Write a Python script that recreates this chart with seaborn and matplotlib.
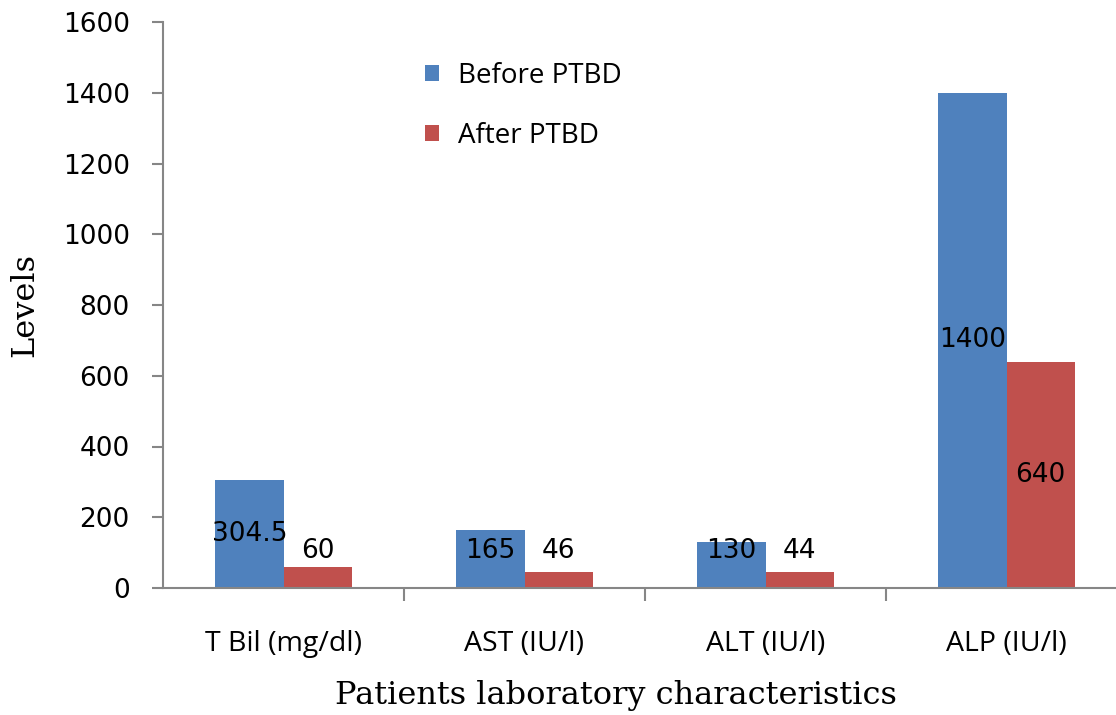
import matplotlib
matplotlib.use("Agg")
import matplotlib.pyplot as plt
import seaborn as sns
import pandas as pd
from matplotlib.patches import Patch

categories = ["T Bil (mg/dl)", "AST (IU/l)", "ALT (IU/l)", "ALP (IU/l)"]
before = [304.5, 165, 130, 1400]
after = [60, 46, 44, 640]
before_labels = ["304.5", "165", "130", "1400"]
after_labels = ["60", "46", "44", "640"]
series = ["Before PTBD", "After PTBD"]
colors = ["#4F81BD", "#C0504D"]
yticks = [0, 200, 400, 600, 800, 1000, 1200, 1400, 1600]

df = pd.DataFrame({
    "cat": categories * 2,
    "val": before + after,
    "series": [series[0]] * 4 + [series[1]] * 4,
})

sns.set_style("white")
fig = plt.figure(figsize=(11.16, 7.15), dpi=100)
ax = fig.add_axes([163 / 1116, (715 - 588) / 715, 1 - 163 / 1116, (588 - 22) / 715])

sns.barplot(data=df, x="cat", y="val", hue="series", palette=colors,
            width=0.568, gap=0, saturation=1, ax=ax, legend=False,
            edgecolor="none", linewidth=0)

ax.set_ylim(0, 1600)
ax.set_yticks(yticks)
ax.set_yticklabels([str(t) for t in yticks], fontsize=19, family="DejaVu Sans")
ax.set_xlim(-0.5, -0.5 + (1116 - 163) / 241)
ax.set_xticks([0, 1, 2, 3])
ax.set_xticklabels(categories, fontsize=20.5, family="Open Sans")
ax.set_xticks([0.5, 1.5, 2.5], minor=True)

grey = "#868686"
for s in ["top", "right"]:
    ax.spines[s].set_visible(False)
for s in ["left", "bottom"]:
    ax.spines[s].set_color(grey)
    ax.spines[s].set_linewidth(1.5)

ax.tick_params(axis="y", which="major", direction="out", length=8, width=1.5,
               color=grey, pad=16, left=True, labelcolor="black")
ax.tick_params(axis="x", which="major", length=0, pad=30, labelcolor="black")
ax.tick_params(axis="x", which="minor", direction="out", length=9, width=1.5,
               color=grey, bottom=True)

ax.set_ylabel("Levels", fontsize=23, family="DejaVu Serif", labelpad=16,
              color="black")
ax.set_xlabel("Patients laboratory characteristics", fontsize=23,
              family="DejaVu Serif", color="black")
ax.xaxis.set_label_coords(0.475, -0.163)

# data labels
for cont, labs in zip(ax.containers, [before_labels, after_labels]):
    for bar, lab in zip(cont, labs):
        h = bar.get_height()
        ypos = max(h / 2, 105)
        ax.text(bar.get_x() + bar.get_width() / 2, ypos, lab, ha="center",
                va="center", fontsize=19, family="DejaVu Sans", color="black")

handles = [Patch(facecolor=c, edgecolor="none") for c in colors]
leg = ax.legend(handles, series, loc="upper left", bbox_to_anchor=(0.275, 0.93),
                frameon=False, prop={"family": "Open Sans", "size": 20},
                handlelength=0.5, handleheight=0.5, handletextpad=0.7,
                labelspacing=1.15, borderpad=0, borderaxespad=0)
for t in leg.get_texts():
    t.set_color("black")

fig.savefig("out.png", dpi=100)
